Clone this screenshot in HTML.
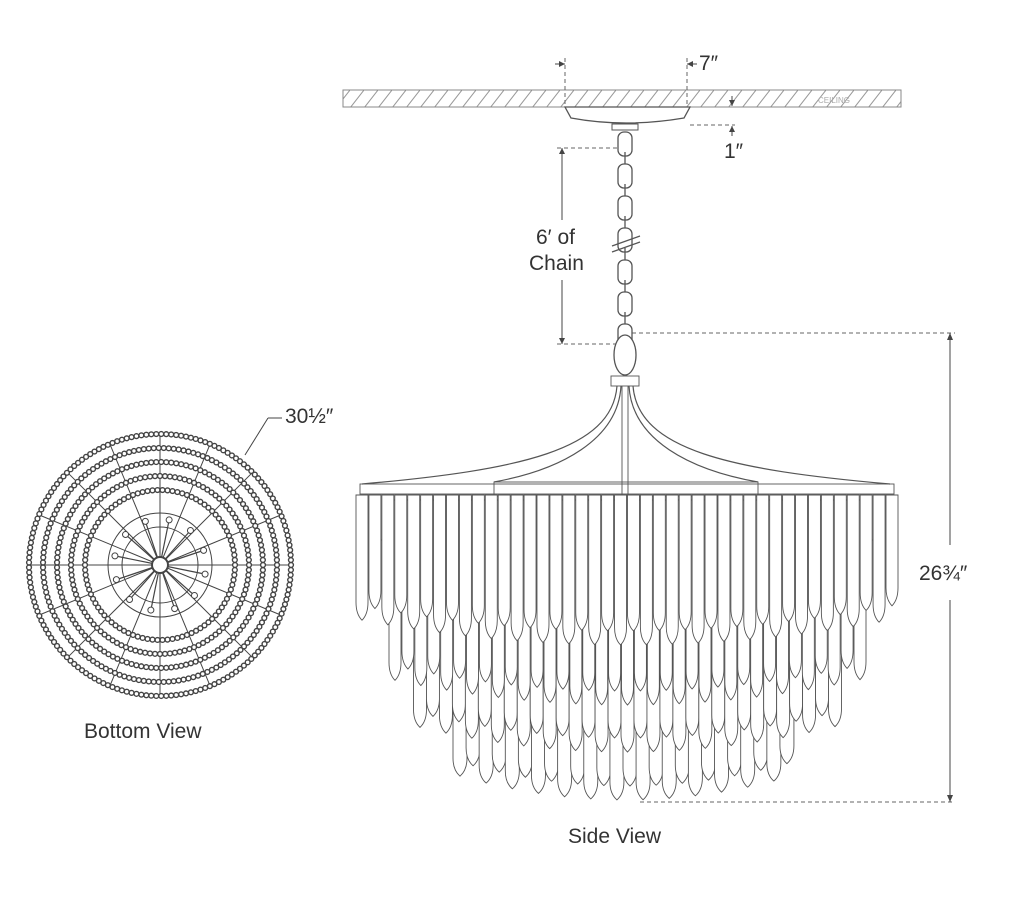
<!DOCTYPE html>
<html><head><meta charset="utf-8"><style>
html,body{margin:0;padding:0;background:#fff;width:1024px;height:917px;overflow:hidden}
svg{display:block}
text{font-family:"Liberation Sans",sans-serif;fill:#333}
</style></head><body>
<svg id="s" width="1024" height="917" viewBox="0 0 1024 917" xmlns="http://www.w3.org/2000/svg">
<defs>
<pattern id="h" width="14" height="18" patternUnits="userSpaceOnUse">
<line x1="0" y1="18" x2="14" y2="0" stroke="#999" stroke-width="1"/>
</pattern>
</defs>
<rect x="343" y="90" width="558" height="17" fill="url(#h)" stroke="#888" stroke-width="1"/>
<text x="818" y="103" font-size="8" style="fill:#aaa">CEILING</text>
<path d="M565 107 L690 107 L684 118 Q625 128 571 118 Z" fill="#fff" stroke="#555" stroke-width="1.3"/>
<rect x="612" y="124" width="26" height="6" fill="#fff" stroke="#555"/>
<g stroke="#666" stroke-width="1" stroke-dasharray="4,3" fill="none">
<line x1="565" y1="58" x2="565" y2="107"/>
<line x1="687" y1="58" x2="687" y2="107"/>
<line x1="690" y1="125" x2="735" y2="125"/>
<line x1="557" y1="148" x2="620" y2="148"/>
<line x1="557" y1="344" x2="620" y2="344"/>
<line x1="632" y1="333" x2="955" y2="333"/>
<line x1="640" y1="802" x2="955" y2="802"/>
</g>
<g stroke="#444" stroke-width="1" fill="none">
<line x1="555" y1="64" x2="565" y2="64"/><line x1="687" y1="64" x2="697" y2="64"/>
<line x1="732" y1="96" x2="732" y2="106"/><line x1="732" y1="126" x2="732" y2="136"/>
<line x1="562" y1="148" x2="562" y2="220"/><line x1="562" y1="280" x2="562" y2="344"/>
<line x1="950" y1="333" x2="950" y2="545"/><line x1="950" y1="600" x2="950" y2="802"/>
<line x1="245" y1="455" x2="268" y2="418"/><line x1="268" y1="418" x2="282" y2="418"/>
</g>
<g fill="#444">
<path d="M565 64 l-6 -3 v6z"/><path d="M687 64 l6 -3 v6z"/>
<path d="M562 148 l-3 6 h6z"/><path d="M562 344 l-3 -6 h6z"/>
<path d="M950 333 l-3 7 h6z"/><path d="M950 802 l-3 -7 h6z"/>
<path d="M732 106 l-3 -6 h6z"/><path d="M732 126 l-3 6 h6z"/>
</g>
<text x="699" y="70" font-size="21">7″</text>
<text x="724" y="158" font-size="21">1″</text>
<text x="536" y="244" font-size="21">6′ of</text>
<text x="529" y="270" font-size="21">Chain</text>
<text x="919" y="580" font-size="21">26¾″</text>
<text x="285" y="423" font-size="21">30½″</text>
<text x="84" y="738" font-size="21">Bottom View</text>
<text x="568" y="843" font-size="21">Side View</text>
<g id="chain" stroke="#555" stroke-width="1.3" fill="#fff"></g>
<g id="bv" fill="none" stroke="#444"></g>
<g id="sv" fill="#fff" stroke="#555" stroke-width="0.9"></g>
</svg>
<script>
var NS="http://www.w3.org/2000/svg";
function el(p,t,a){var e=document.createElementNS(NS,t);for(var k in a)e.setAttribute(k,a[k]);p.appendChild(e);return e;}
var ch=document.getElementById('chain');
for(var y=132;y<330;y+=32){el(ch,'rect',{x:618,y:y,width:14,height:24,rx:6});el(ch,'line',{x1:625,y1:y+20,x2:625,y2:y+36});}
el(ch,'line',{x1:612,y1:246,x2:640,y2:236});el(ch,'line',{x1:612,y1:252,x2:640,y2:242});
el(ch,'ellipse',{cx:625,cy:355,rx:11,ry:20});
var bv=document.getElementById('bv'),cx=160,cy=565;
for(var i=0;i<16;i++){var a=i*Math.PI/8;el(bv,'line',{x1:cx,y1:cy,x2:cx+130*Math.cos(a),y2:cy+130*Math.sin(a),'stroke-width':1});}
[131,117,103,89,75,52,38].forEach(function(r,j){
 el(bv,'circle',{cx:cx,cy:cy,r:r,'stroke-width':1});
 if(j<5){var n=Math.round(2*Math.PI*r/5);for(var k=0;k<n;k++){var a=k*2*Math.PI/n;el(bv,'circle',{cx:cx+r*Math.cos(a),cy:cy+r*Math.sin(a),r:2.4,'stroke-width':1.4,fill:'#fff'});}}
});
for(var i=0;i<12;i++){var a=i*Math.PI/6+0.2;el(bv,'line',{x1:cx,y1:cy,x2:cx+46*Math.cos(a),y2:cy+46*Math.sin(a),'stroke-width':1.2});el(bv,'circle',{cx:cx+46*Math.cos(a),cy:cy+46*Math.sin(a),r:3,fill:'#fff'});}
el(bv,'circle',{cx:cx,cy:cy,r:8,fill:'#fff','stroke-width':2});
var sv=document.getElementById('sv');
el(sv,'rect',{x:611,y:376,width:28,height:10});
el(sv,'path',{d:'M617 386 C612 450 520 470 362 484',fill:'none','stroke-width':1.2});
el(sv,'path',{d:'M633 386 C638 450 730 470 890 484',fill:'none','stroke-width':1.2});
el(sv,'path',{d:'M621 386 C618 440 560 470 494 482',fill:'none','stroke-width':1.2});
el(sv,'path',{d:'M629 386 C632 440 690 470 758 482',fill:'none','stroke-width':1.2});
el(sv,'line',{x1:622,y1:386,x2:622,y2:660});el(sv,'line',{x1:628,y1:386,x2:628,y2:660});
el(sv,'rect',{x:360,y:484,width:534,height:10,fill:'none'});
el(sv,'rect',{x:494,y:482,width:264,height:14,fill:'none'});
el(sv,'line',{x1:380,y1:540,x2:875,y2:540});el(sv,'line',{x1:400,y1:565,x2:855,y2:565});
function drop(x,t,b,w){el(sv,'path',{d:'M'+(x-w/2)+' '+t+' L'+(x-w/2)+' '+(b-18)+' Q'+(x-w/2)+' '+(b-6)+' '+x+' '+b+' Q'+(x+w/2)+' '+(b-6)+' '+(x+w/2)+' '+(b-18)+' L'+(x+w/2)+' '+t+' Z'});}
var tiers=[[460,800,500,800,14],[420,835,505,752,13],[395,860,500,705,12],[362,892,495,645,12]];
tiers.forEach(function(T){
 var xs=[];for(var x=T[0];x<=T[1];x+=(T[1]-T[0])/Math.round((T[1]-T[0])/13))xs.push(x);
 xs.forEach(function(x,i){var d=Math.abs(x-626)/((T[1]-T[0])/2);var b=T[3]-d*d*25+((i%2)?-14:0);drop(x,T[2],b,T[4]);});
});
</script>
</body></html>
